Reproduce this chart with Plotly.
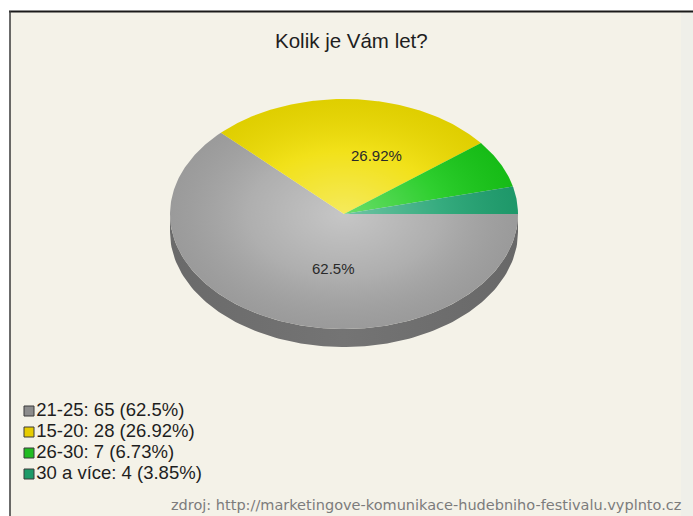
import numpy as np
import plotly.graph_objects as go

# ---- data -------------------------------------------------------------
title = "Kolik je Vám let?"
categories = ["21-25", "15-20", "26-30", "30 a více"]
counts = [65, 28, 7, 4]
slice_colors = ["#A6A6A6", "#F0DE00", "#18CA18", "#20A371"]
legend_colors = ["#8C8C8C", "#E6CC00", "#22BB22", "#1E9A68"]
source_text = "zdroj: http://marketingove-komunikace-hudebniho-festivalu.vyplnto.cz"

# ---- geometry of the canvas and the tilted pie (pixel units) -------------
W, H = 693, 516
CX, CY = 344, 214          # apex of the pie
RX, RY = 174, 115          # radii of the top ellipse
DEPTH = 18                 # thickness of the pie rim
LABEL_R = 0.51             # relative radius of in-slice labels
BG = "#F4F2E8"
FONT = "Liberation Sans, Arial, sans-serif"

total = sum(counts)
shares = [c / total * 100 for c in counts]


def pct(v):
    return f"{round(v, 2):g}%"


def ell(a_deg, dy=0.0):
    a = np.radians(a_deg)
    return CX + RX * np.cos(a), CY - RY * np.sin(a) + dy


def shade(hex_color, k):
    h = hex_color.lstrip("#")
    r, g, b = (int(h[i:i + 2], 16) for i in (0, 2, 4))
    return "#%02x%02x%02x" % (int(r * k), int(g * k), int(b * k))


fig = go.Figure()

# slices run clockwise from 3 o'clock
bounds = []
a0 = 0.0
for s in shares:
    a1 = a0 - s * 3.6
    bounds.append((a0, a1))
    a0 = a1

# rim: visible only on the front half of the ellipse (sin < 0)
for (a0, a1), col in zip(bounds, slice_colors):
    for lo_f, hi_f in [(-180.0, 0.0), (-540.0, -360.0)]:
        lo, hi = max(a1, lo_f), min(a0, hi_f)
        if hi - lo <= 0:
            continue
        t = np.linspace(hi, lo, 120)
        xt, yt = ell(t)
        xb, yb = ell(t[::-1], DEPTH)
        fig.add_trace(go.Scatter(
            x=np.concatenate([xt, xb]), y=np.concatenate([yt, yb]),
            fill="toself", mode="lines", line=dict(width=0),
            fillgradient=dict(type="horizontal", colorscale=[
                [0, shade(col, 0.64)], [0.5, shade(col, 0.70)], [1, shade(col, 0.63)]]),
            hoverinfo="skip"))

# top faces of the slices
for (a0, a1), col, cat in zip(bounds, slice_colors, categories):
    t = np.linspace(a0, a1, max(8, int(abs(a0 - a1) * 2)))
    xs, ys = ell(t)
    fig.add_trace(go.Scatter(
        x=np.concatenate([[CX], xs, [CX]]), y=np.concatenate([[CY], ys, [CY]]),
        fill="toself", mode="lines", line=dict(width=0, color=col),
        fillcolor=col, name=cat, hoverinfo="skip"))

# soft highlight over the top face
t = np.linspace(0, 360, 241)
xs, ys = ell(t)
fig.add_trace(go.Scatter(
    x=xs, y=ys, fill="toself", mode="lines", line=dict(width=0),
    fillgradient=dict(type="radial", colorscale=[
        [0, "rgba(255,255,255,0.36)"], [0.55, "rgba(255,255,255,0.10)"],
        [1, "rgba(0,0,0,0.07)"]]),
    hoverinfo="skip"))

# percentage labels inside the larger slices
for (a0, a1), s in zip(bounds, shares):
    if s < 10:
        continue
    mid = (a0 + a1) / 2
    a = np.radians(mid)
    fig.add_annotation(x=CX + RX * LABEL_R * np.cos(a), y=CY - RY * LABEL_R * np.sin(a),
                       text=pct(s), showarrow=False, xanchor="left", yanchor="middle",
                       font=dict(family=FONT, size=15, color="#2a2a2a"))

# legend
leg_y = [411 + i * 21 for i in range(len(categories))]
leg_text = [f"{c}: {n} ({pct(s)})" for c, n, s in zip(categories, counts, shares)]
fig.add_trace(go.Scatter(
    x=[29] * len(categories), y=leg_y, mode="markers+text",
    marker=dict(symbol="square", size=10, color=legend_colors,
                line=dict(color="#3a3a3a", width=1)),
    text=leg_text, textposition="middle right",
    textfont=dict(family=FONT, size=18.5, color="#1e1e1e"), hoverinfo="skip"))

# title and source line
fig.add_annotation(x=351, y=40, text=title, showarrow=False,
                   font=dict(family=FONT, size=20.5, color="#1e1e1e"))
fig.add_annotation(x=683, y=505, text=source_text, showarrow=False, xanchor="right",
                   font=dict(family="DejaVu Sans, sans-serif", size=14.5, color="#7c7c7c"))

# panel with dark top/left border
fig.update_layout(shapes=[
    dict(type="rect", x0=10, y0=11, x1=W, y1=H, fillcolor=BG, line=dict(width=0), layer="below"),
    dict(type="rect", x0=681, y0=12, x1=W, y1=H, fillcolor="#EFEFE9", line=dict(width=0), layer="below"),
    dict(type="line", x0=9, y0=11.5, x1=W, y1=11.5, line=dict(color="#1a1a1a", width=2)),
    dict(type="line", x0=10, y0=11, x1=10, y1=H, line=dict(color="#3a3a3a", width=1.5)),
])

fig.update_layout(
    width=W, height=H, margin=dict(l=0, r=0, t=0, b=0),
    paper_bgcolor="white", plot_bgcolor="rgba(0,0,0,0)", showlegend=False,
    xaxis=dict(range=[0, W], visible=False, fixedrange=True),
    yaxis=dict(range=[H, 0], visible=False, fixedrange=True),
)

fig.write_html("out.html")
